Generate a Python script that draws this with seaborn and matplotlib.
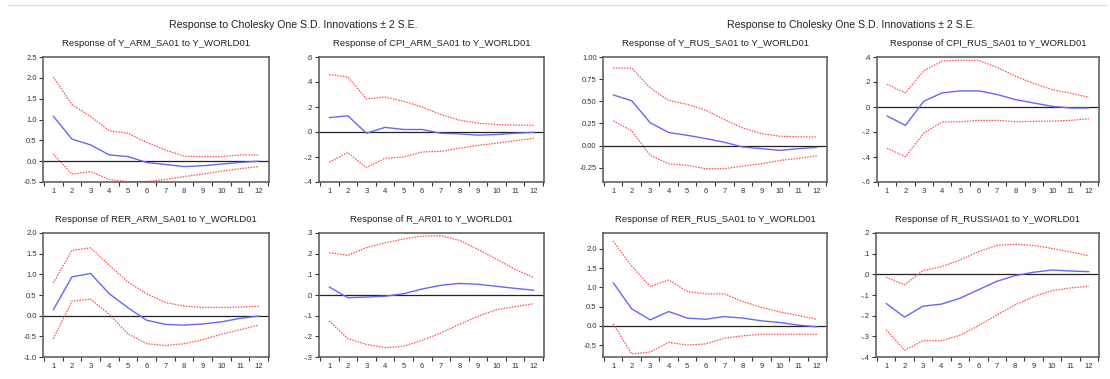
import numpy as np
import pandas as pd
import seaborn as sns
import matplotlib
matplotlib.use("Agg")
import matplotlib.pyplot as plt

sns.set_theme(style="white")
plt.rcParams['font.family'] = ['Liberation Sans', 'DejaVu Sans']

periods = list(range(1, 13))

suptitle = "Response to Cholesky One S.D. Innovations \u00b1 2 S.E."

titles = [
    "Response of Y_ARM_SA01 to Y_WORLD01",
    "Response of CPI_ARM_SA01 to Y_WORLD01",
    "Response of RER_ARM_SA01 to Y_WORLD01",
    "Response of R_AR01 to Y_WORLD01",
    "Response of Y_RUS_SA01 to Y_WORLD01",
    "Response of CPI_RUS_SA01 to Y_WORLD01",
    "Response of RER_RUS_SA01 to Y_WORLD01",
    "Response of R_RUSSIA01 to Y_WORLD01",
]

y_arm_resp = [1.08, 0.53, 0.39, 0.15, 0.11, -0.03, -0.08, -0.13, -0.11, -0.07, -0.03, 0.0]
y_arm_up = [2.02, 1.36, 1.07, 0.73, 0.67, 0.45, 0.27, 0.12, 0.11, 0.11, 0.15, 0.15]
y_arm_lo = [0.17, -0.31, -0.25, -0.44, -0.49, -0.49, -0.44, -0.37, -0.31, -0.24, -0.18, -0.13]

cpi_arm_resp = [0.115, 0.13, -0.01, 0.037, 0.02, 0.02, -0.01, -0.015, -0.025, -0.02, -0.01, -0.003]
cpi_arm_up = [0.46, 0.44, 0.265, 0.28, 0.245, 0.2, 0.14, 0.095, 0.07, 0.06, 0.055, 0.055]
cpi_arm_lo = [-0.24, -0.165, -0.285, -0.21, -0.2, -0.16, -0.155, -0.13, -0.107, -0.09, -0.07, -0.05]

rer_arm_resp = [0.14, 0.94, 1.02, 0.53, 0.19, -0.11, -0.21, -0.23, -0.2, -0.15, -0.065, -0.01]
rer_arm_up = [0.79, 1.58, 1.64, 1.22, 0.81, 0.53, 0.32, 0.23, 0.2, 0.2, 0.21, 0.23]
rer_arm_lo = [-0.56, 0.35, 0.4, 0.03, -0.44, -0.68, -0.72, -0.68, -0.58, -0.45, -0.34, -0.23]

r_ar_resp = [0.039, -0.013, -0.01, -0.006, 0.006, 0.029, 0.047, 0.056, 0.052, 0.042, 0.032, 0.023]
r_ar_up = [0.205, 0.192, 0.229, 0.252, 0.271, 0.285, 0.287, 0.265, 0.221, 0.173, 0.124, 0.084]
r_ar_lo = [-0.126, -0.211, -0.239, -0.255, -0.248, -0.219, -0.184, -0.142, -0.103, -0.071, -0.056, -0.042]

y_rus_resp = [0.572, 0.507, 0.258, 0.148, 0.117, 0.08, 0.038, -0.015, -0.034, -0.053, -0.034, -0.019]
y_rus_up = [0.875, 0.875, 0.65, 0.51, 0.466, 0.4, 0.295, 0.2, 0.136, 0.106, 0.1, 0.098]
y_rus_lo = [0.28, 0.167, -0.11, -0.205, -0.223, -0.26, -0.26, -0.23, -0.205, -0.167, -0.144, -0.114]

cpi_rus_resp = [-0.072, -0.147, 0.046, 0.113, 0.129, 0.129, 0.1, 0.059, 0.032, 0.005, -0.008, -0.008]
cpi_rus_up = [0.182, 0.113, 0.29, 0.367, 0.375, 0.373, 0.316, 0.247, 0.188, 0.139, 0.11, 0.078]
cpi_rus_lo = [-0.33, -0.397, -0.209, -0.12, -0.118, -0.107, -0.107, -0.118, -0.115, -0.113, -0.107, -0.094]

rer_rus_resp = [1.12, 0.44, 0.155, 0.37, 0.2, 0.17, 0.24, 0.2, 0.13, 0.086, 0.017, -0.026]
rer_rus_up = [2.2, 1.55, 1.02, 1.19, 0.89, 0.83, 0.83, 0.63, 0.48, 0.36, 0.27, 0.17]
rer_rus_lo = [0.05, -0.73, -0.68, -0.43, -0.5, -0.47, -0.32, -0.26, -0.22, -0.22, -0.22, -0.22]

r_rus_resp = [-0.141, -0.207, -0.154, -0.144, -0.116, -0.075, -0.034, -0.006, 0.01, 0.021, 0.016, 0.013]
r_rus_up = [-0.014, -0.051, 0.018, 0.037, 0.069, 0.109, 0.14, 0.146, 0.14, 0.125, 0.108, 0.09]
r_rus_lo = [-0.268, -0.368, -0.321, -0.321, -0.295, -0.249, -0.197, -0.148, -0.108, -0.079, -0.066, -0.058]

yticks = [
    [-0.5, 0.0, 0.5, 1.0, 1.5, 2.0, 2.5],
    [-0.4, -0.2, 0.0, 0.2, 0.4, 0.6],
    [-1.0, -0.5, 0.0, 0.5, 1.0, 1.5, 2.0],
    [-0.3, -0.2, -0.1, 0.0, 0.1, 0.2, 0.3],
    [-0.25, 0.0, 0.25, 0.5, 0.75, 1.0],
    [-0.6, -0.4, -0.2, 0.0, 0.2, 0.4],
    [-0.5, 0.0, 0.5, 1.0, 1.5, 2.0],
    [-0.4, -0.3, -0.2, -0.1, 0.0, 0.1, 0.2],
]
ytick_labels = [
    ["-0.5", "0.0", "0.5", "1.0", "1.5", "2.0", "2.5"],
    ["-.4", "-.2", ".0", ".2", ".4", ".6"],
    ["-1.0", "-0.5", "0.0", "0.5", "1.0", "1.5", "2.0"],
    ["-.3", "-.2", "-.1", ".0", ".1", ".2", ".3"],
    ["-0.25", "0.00", "0.25", "0.50", "0.75", "1.00"],
    ["-.6", "-.4", "-.2", ".0", ".2", ".4"],
    ["-0.5", "0.0", "0.5", "1.0", "1.5", "2.0"],
    ["-.4", "-.3", "-.2", "-.1", ".0", ".1", ".2"],
]
ylims = [(-0.5, 2.5), (-0.4, 0.6), (-1.0, 2.0), (-0.3, 0.3),
         (-0.41, 1.0), (-0.6, 0.4), (-0.81, 2.41), (-0.4, 0.2)]

series = [
    (y_arm_resp, y_arm_up, y_arm_lo),
    (cpi_arm_resp, cpi_arm_up, cpi_arm_lo),
    (rer_arm_resp, rer_arm_up, rer_arm_lo),
    (r_ar_resp, r_ar_up, r_ar_lo),
    (y_rus_resp, y_rus_up, y_rus_lo),
    (cpi_rus_resp, cpi_rus_up, cpi_rus_lo),
    (rer_rus_resp, rer_rus_up, rer_rus_lo),
    (r_rus_resp, r_rus_up, r_rus_lo),
]

W, H = 1110, 379
# axes boxes in pixels: left, right, top, bottom
boxes = [
    (43, 269, 57, 182), (319, 544, 57, 182),
    (43, 269, 233, 357), (319, 544, 233, 357),
    (603, 827, 57, 182), (877, 1099, 57, 182),
    (603, 827, 233, 357), (876, 1099, 233, 357),
]

fig = plt.figure(figsize=(W / 100, H / 100), dpi=100)
fig.patch.set_facecolor("white")

blue = "#6666ff"
red = "#ff4d4d"
frame = "#555555"

for i, (l, r, t, b) in enumerate(boxes):
    ax = fig.add_axes([l / W, 1 - b / H, (r - l) / W, (b - t) / H])
    resp, up, lo = series[i]
    df = pd.DataFrame({
        "period": periods * 3,
        "value": list(resp) + list(up) + list(lo),
        "band": ["resp"] * 12 + ["up"] * 12 + ["lo"] * 12,
    })
    ax.axhline(0, color="#222222", lw=0.9, zorder=1)
    sns.lineplot(data=df[df.band == "up"], x="period", y="value", ax=ax,
                 color=red, lw=0.9, linestyle=(0, (1.2, 1.0)), zorder=2)
    sns.lineplot(data=df[df.band == "lo"], x="period", y="value", ax=ax,
                 color=red, lw=0.9, linestyle=(0, (1.2, 1.0)), zorder=2)
    sns.lineplot(data=df[df.band == "resp"], x="period", y="value", ax=ax,
                 color=blue, lw=1.0, zorder=3)
    ax.set_xlim(0.45, 12.55)
    ax.set_ylim(*ylims[i])
    ax.set_yticks(yticks[i])
    ax.set_yticklabels(ytick_labels[i])
    ax.set_xticks(periods)
    ax.set_xticklabels([str(p) for p in periods])
    ax.set_xticks([p + 0.5 for p in range(0, 13)], minor=True)
    ax.tick_params(axis="x", which="major", length=0, labelsize=5.5,
                   colors="#333333", pad=4)
    ax.tick_params(axis="x", which="minor", length=3, width=0.8,
                   color="#333333", direction="out", bottom=True)
    ax.tick_params(axis="y", which="major", length=3, width=0.8,
                   labelsize=5.5, colors="#333333", direction="out", left=True, pad=1.5)
    ax.set_xlabel("")
    ax.set_ylabel("")
    for s in ax.spines.values():
        s.set_color(frame)
        s.set_linewidth(1.1)
    ax.set_title(titles[i], fontsize=6.8, color="#222222", pad=8)
    ax.grid(False)

fig.text(293 / W, 1 - 25 / H, suptitle, ha="center", va="center",
         fontsize=7.6, color="#222222")
fig.text(851 / W, 1 - 25 / H, suptitle, ha="center", va="center",
         fontsize=7.6, color="#222222")
fig.add_artist(plt.Line2D([8 / W, 1 - 4 / W], [1 - 5 / H, 1 - 5 / H],
                          color="#dddddd", lw=1.0))

fig.savefig("out.png", dpi=100, facecolor="white")
